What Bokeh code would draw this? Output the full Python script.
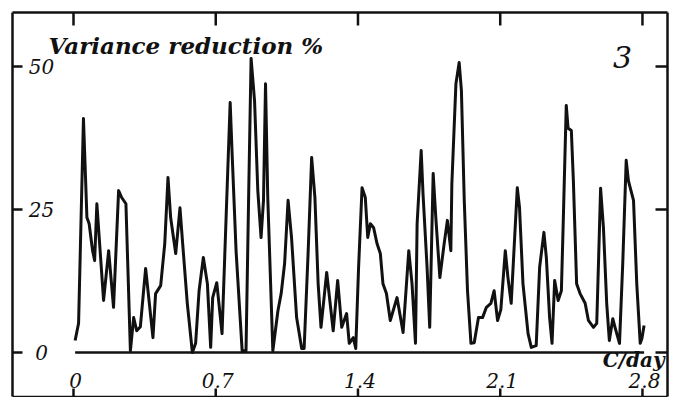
from bokeh.plotting import figure
from bokeh.models import Range1d
from bokeh.core.properties import value
from bokeh.embed import file_html
from bokeh.resources import INLINE

# ---- data (frequency in cycles/day, variance reduction in %) ----
freq = [0.008, 0.025, 0.049, 0.066, 0.077, 0.094, 0.104, 0.115, 0.148, 0.173,
        0.197, 0.222, 0.237, 0.258, 0.280, 0.296, 0.311, 0.329, 0.345, 0.355,
        0.391, 0.404, 0.429, 0.449, 0.465, 0.478, 0.503, 0.524, 0.536, 0.560,
        0.585, 0.601, 0.618, 0.639, 0.659, 0.675, 0.685, 0.705, 0.731, 0.751,
        0.771, 0.780, 0.800, 0.830, 0.849, 0.863, 0.874, 0.891, 0.907, 0.923,
        0.935, 0.945, 0.956, 0.981, 1.006, 1.022, 1.039, 1.056, 1.073, 1.098,
        1.123, 1.135, 1.155, 1.172, 1.188, 1.204, 1.218, 1.246, 1.278, 1.300,
        1.320, 1.344, 1.357, 1.377, 1.389, 1.403, 1.420, 1.436, 1.448, 1.461,
        1.477, 1.494, 1.510, 1.523, 1.540, 1.559, 1.592, 1.622, 1.650, 1.666,
        1.683, 1.691, 1.711, 1.720, 1.740, 1.753, 1.770, 1.783, 1.803, 1.824,
        1.840, 1.857, 1.862, 1.882, 1.898, 1.909, 1.923, 1.939, 1.956, 1.972,
        1.993, 2.013, 2.032, 2.054, 2.070, 2.087, 2.103, 2.125, 2.138, 2.154,
        2.184, 2.195, 2.212, 2.237, 2.253, 2.277, 2.294, 2.315, 2.327, 2.343,
        2.355, 2.368, 2.385, 2.401, 2.409, 2.425, 2.434, 2.450, 2.460, 2.476,
        2.493, 2.518, 2.534, 2.559, 2.575, 2.583, 2.594, 2.608, 2.624, 2.637,
        2.654, 2.665, 2.687, 2.703, 2.720, 2.731, 2.756, 2.772, 2.789, 2.797,
        2.808]
reduction = [2.1, 5.1, 40.9, 23.6, 22.5, 17.8, 16.1, 26.0, 9.1, 17.8,
             7.9, 28.3, 27.1, 26.0, 0.3, 6.1, 3.8, 4.5, 10.8, 14.7,
             2.6, 10.3, 11.7, 19.0, 30.6, 23.6, 17.3, 25.3, 19.6, 8.6,
             0.0, 1.6, 10.8, 16.6, 12.0, 0.9, 9.6, 12.2, 3.3, 23.6,
             43.7, 35.3, 17.8, 0.3, 0.3, 29.5, 51.4, 44.0, 28.3, 20.1,
             26.6, 47.0, 27.1, 0.3, 7.3, 10.3, 15.6, 26.6, 20.1, 6.1,
             0.7, 0.7, 17.8, 34.1, 27.1, 12.0, 4.4, 14.0, 3.8, 12.6,
             4.4, 6.8, 1.6, 2.6, 0.7, 14.9, 28.8, 27.1, 20.1, 22.5,
             21.8, 19.0, 17.3, 12.0, 10.3, 5.6, 9.6, 3.5, 17.8, 12.0,
             1.6, 22.5, 35.3, 27.8, 14.9, 4.4, 31.3, 23.6, 13.1, 19.0,
             23.1, 17.8, 29.5, 47.0, 50.7, 45.8, 26.6, 10.8, 1.6, 1.7,
             6.1, 6.1, 7.9, 8.6, 10.8, 5.6, 7.5, 17.8, 13.1, 8.6,
             28.8, 25.3, 12.0, 3.3, 0.9, 1.2, 14.9, 21.0, 16.6, 6.1,
             1.6, 12.6, 9.1, 10.8, 21.3, 43.2, 39.2, 38.8, 30.0, 12.0,
             10.3, 8.6, 5.6, 4.4, 5.1, 14.9, 28.7, 21.8, 8.6, 2.1,
             5.9, 4.4, 1.6, 15.6, 33.6, 30.0, 26.6, 12.0, 1.6, 2.4,
             4.7]
x_ticks = [0, 0.7, 1.4, 2.1, 2.8]
x_tick_labels = ["0", "0.7", "1.4", "2.1", "2.8"]
y_ticks = [0, 25, 50]
y_tick_labels = ["0", "25", "50"]

# ---- layout: figure pixels -> data ----
W, H = 669, 397
XS, X0 = 203.2, 73.0      # px per c/day, x pixel of 0
YS, Y0 = 5.72, 352.0      # px per %, y pixel of 0


def X(px):
    return (px - X0) / XS


def Y(py):
    return (Y0 - py) / YS


L, T, R, B = 12, 12, 667, 396   # frame edges (px)

p = figure(width=W, height=H, output_backend="svg", toolbar_location=None,
           x_range=Range1d(X(0), X(W)), y_range=Range1d(Y(H), Y(0)),
           min_border=0, outline_line_color=None)
p.xaxis.visible = False
p.yaxis.visible = False
p.grid.visible = False
p.background_fill_color = "white"
p.border_fill_color = "white"

ink = "#111111"
serif = value("DejaVu Serif")
nx, ny = len(x_ticks), len(y_ticks)

# frame
p.segment(x0=[X(L), X(L), X(R)], y0=[Y(T), Y(T), Y(T)],
          x1=[X(L), X(R), X(R)], y1=[Y(B), Y(T), Y(B)],
          line_color=ink, line_width=2.5)
p.segment(x0=[X(L)], y0=[Y(B)], x1=[X(R)], y1=[Y(B)], line_color=ink, line_width=1.5)

# ticks (pointing inward)
p.segment(x0=x_ticks, y0=[Y(T)] * nx, x1=x_ticks, y1=[Y(T + 13)] * nx,
          line_color=ink, line_width=2.5)
p.segment(x0=x_ticks, y0=[Y(B)] * nx, x1=x_ticks, y1=[Y(B - 8)] * nx,
          line_color=ink, line_width=2.5)
p.segment(x0=[X(L)] * ny, y0=y_ticks, x1=[X(L + 10)] * ny, y1=y_ticks,
          line_color=ink, line_width=2.5)
p.segment(x0=[X(R)] * ny, y0=y_ticks, x1=[X(R - 12)] * ny, y1=y_ticks,
          line_color=ink, line_width=2.5)

# zero baseline and curve
p.segment(x0=[freq[0]], y0=[0], x1=[freq[-1]], y1=[0], line_color=ink, line_width=2.5)
p.line(freq, reduction, line_color=ink, line_width=3, line_join="round")

# tick labels
p.text(x=[X(41)] * ny, y=y_ticks, text=y_tick_labels, text_font=serif,
       text_font_style="italic", text_font_size="20px", text_align="center",
       text_baseline="middle", text_color=ink)
p.text(x=[t + 2 / XS for t in x_ticks], y=[Y(380)] * nx, text=x_tick_labels,
       text_font=serif, text_font_style="italic", text_font_size="20px",
       text_align="center", text_baseline="middle", text_color=ink)

# titles
p.text(x=[X(48)], y=[Y(45)], text=["Variance reduction %"], text_font=serif,
       text_font_style="bold italic", text_font_size="23px", text_align="left",
       text_baseline="middle", text_color=ink)
p.text(x=[X(622)], y=[Y(56)], text=["3"], text_font=serif, text_font_style="italic",
       text_font_size="30px", text_align="center", text_baseline="middle", text_color=ink)
p.text(x=[X(664)], y=[Y(359)], text=["C/day"], text_font=serif,
       text_font_style="bold italic", text_font_size="20px", text_align="right",
       text_baseline="middle", text_color=ink)

open("out.html", "w").write(file_html(p, INLINE))
